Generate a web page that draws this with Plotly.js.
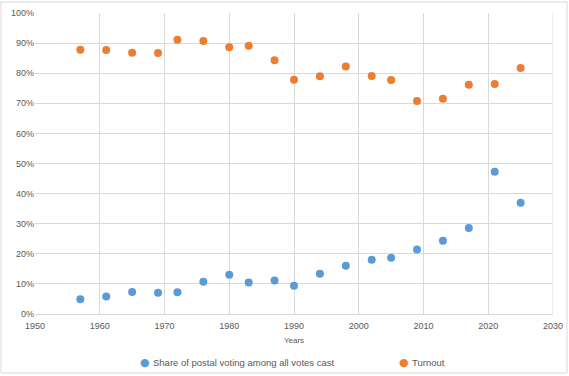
<!DOCTYPE html>
<html>
<head>
<meta charset="utf-8">
<script src="https://cdn.plot.ly/plotly-3.0.1.min.js"></script>
<style>html,body{margin:0;padding:0;background:#fff;}#chart{width:569px;height:376px;}</style>
</head>
<body>
<div id="chart"></div>
<script>
const years = [1957, 1961, 1965, 1969, 1972, 1976, 1980, 1983, 1987, 1990, 1994, 1998, 2002, 2005, 2009, 2013, 2017, 2021, 2025];
const postalShare = [4.9, 5.8, 7.3, 7.1, 7.2, 10.7, 13.0, 10.5, 11.1, 9.4, 13.4, 16.0, 18.0, 18.7, 21.4, 24.3, 28.6, 47.3, 37.0];
const turnout = [87.8, 87.7, 86.8, 86.7, 91.1, 90.7, 88.6, 89.1, 84.3, 77.8, 79.0, 82.2, 79.1, 77.7, 70.8, 71.5, 76.2, 76.4, 81.7];
const seriesNames = ["Share of postal voting among all votes cast", "Turnout"];
const seriesColors = ["#5B9BD5", "#ED7D31"];
const xTitle = "Years";

const font = "Liberation Sans, Arial, sans-serif";
const traces = [
  {x: years, y: postalShare, name: seriesNames[0], type: "scatter", mode: "markers",
   marker: {color: seriesColors[0], size: 8}},
  {x: years, y: turnout, name: seriesNames[1], type: "scatter", mode: "markers",
   marker: {color: seriesColors[1], size: 8}}
];
// paper coords: x px = 35 + 518*x ; y px = 314 - 301*y
const legX = [(145 - 35) / 518, (404 - 35) / 518];
const legY = (314 - 362) / 301;
const annotations = [];
seriesNames.forEach((n, i) => {
  annotations.push({xref: "paper", yref: "paper", x: legX[i], y: legY, xanchor: "center", yanchor: "middle",
    text: "●", showarrow: false, font: {size: 11, color: seriesColors[i], family: "DejaVu Sans"}});
  annotations.push({xref: "paper", yref: "paper", x: legX[i] + 6 / 518, y: legY, xanchor: "left", yanchor: "middle",
    text: n, showarrow: false, font: {size: 9.5, color: "#595959", family: font}});
});
const layout = {
  width: 569, height: 376,
  margin: {l: 35, r: 16, t: 13, b: 62},
  paper_bgcolor: "#fff", plot_bgcolor: "#fff",
  font: {family: font, color: "#595959", size: 9},
  showlegend: false,
  annotations: annotations,
  xaxis: {range: [1950, 2030], dtick: 10, tick0: 1950, showgrid: true, gridcolor: "#D9D9D9",
          gridwidth: 1, zeroline: false, showline: true, linecolor: "#D9D9D9", mirror: false,
          ticks: "", tickfont: {size: 9, color: "#595959"}, automargin: false, ticklabelstandoff: 3,
          title: {text: xTitle, font: {size: 8, color: "#595959"}, standoff: 7}},
  yaxis: {range: [0, 100], dtick: 10, showgrid: true, gridcolor: "#D9D9D9", gridwidth: 1,
          zeroline: false, showline: false, ticks: "", ticksuffix: "%", automargin: false,
          tickfont: {size: 9, color: "#595959"}},
  shapes: [
    {type: "line", xref: "x", yref: "paper", x0: 2030, x1: 2030, y0: 0, y1: 1,
     line: {color: "#D9D9D9", width: 1}},
    {type: "rect", xref: "paper", yref: "paper", x0: -0.0656, x1: 1.027, y0: -0.196, y1: 1.0365,
     line: {color: "#D9D9D9", width: 1}, fillcolor: "rgba(0,0,0,0)"}
  ]
};
Plotly.newPlot("chart", traces, layout, {displayModeBar: false, staticPlot: true});
</script>
</body>
</html>
